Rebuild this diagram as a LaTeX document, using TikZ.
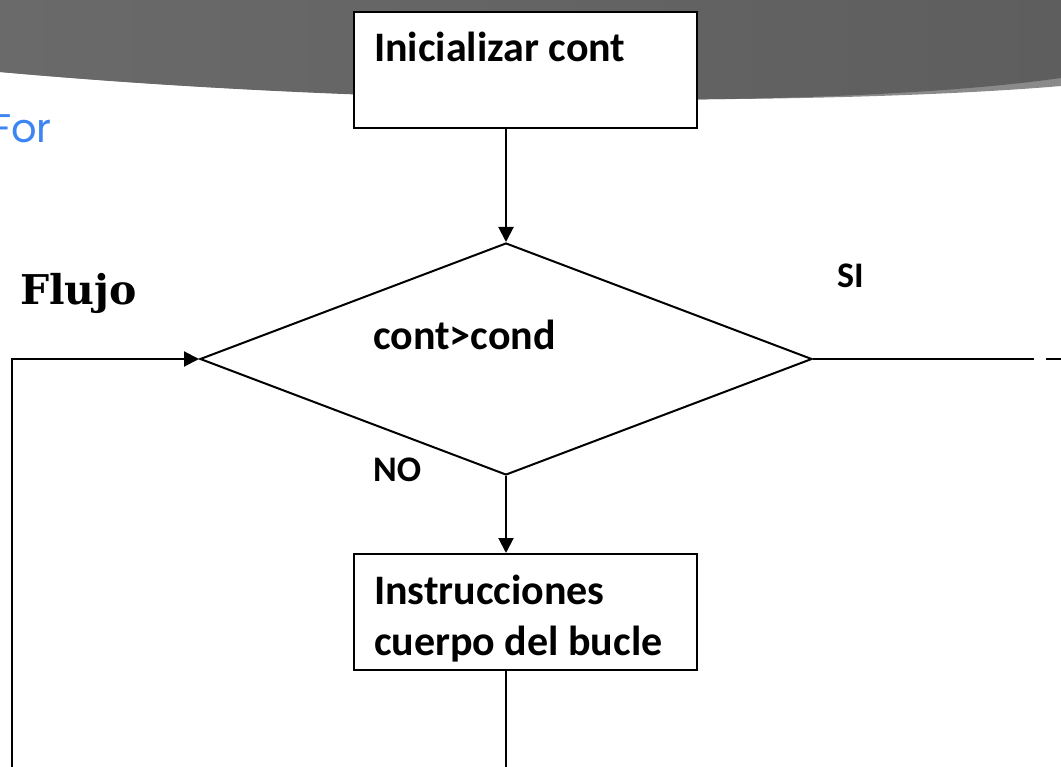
\documentclass[tikz,border=0pt]{standalone}
\usepackage{fontspec}
\setmainfont{Carlito}
\newfontfamily\serifflujo{DejaVu Serif}
\newfontfamily\sansfor{Poppins}
\usetikzlibrary{shapes.geometric,arrows.meta,positioning}
\definecolor{bandaizq}{HTML}{6A6A6A}
\definecolor{bandader}{HTML}{5E5E5E}
\definecolor{bandaclara}{HTML}{8A8A8A}
\definecolor{azulfor}{HTML}{3D85F2}

\begin{document}
\begin{tikzpicture}[x=1pt, y=-1pt,
    caja/.style={draw, rectangle, line width=2.2pt, fill=white, anchor=north west,
      inner xsep=20pt, inner ysep=0pt, text width=303pt, align=flush left,
      text height=49pt, text depth=67pt,
      font=\bfseries\fontsize{42}{51}\selectfont},
    rombo/.style={draw, diamond, line width=2pt, inner sep=0pt,
      minimum width=612pt, minimum height=232pt},
    etiqueta/.style={inner sep=0pt, anchor=base west, font=\bfseries\fontsize{36}{43}\selectfont},
    linea/.style={line width=2pt},
    flecha/.style={linea, -{Triangle[length=15pt, width=15pt]}}]
    \useasboundingbox (0,0) rectangle (1061,767);
    % banda gris de arriba
    \fill[bandaclara] (0,0) -- (1061,0) -- (1061,86) .. controls (850,104) and (400,108) .. (0,72) -- cycle;
    \shade[left color=bandaizq, right color=bandader] (0,0) -- (1061,0) -- (1061,78) .. controls (850,108) and (400,108) .. (0,72) -- cycle;
    \node[inner sep=0pt, anchor=base west, text=azulfor, font=\sansfor\fontsize{40}{48}\selectfont] (titulo) at (-9,143) {For};
    \node[inner sep=0pt, anchor=base west, font=\serifflujo\bfseries\fontsize{41}{48}\selectfont] (flujo) at (20,305) {Flujo};

    \node[caja] (init) at (353,11) {Inicializar cont};
    \node[rombo] (cond) at (506,359) {};
    \node[etiqueta, font=\bfseries\fontsize{42}{51}\selectfont] (txtcond) at (373,350) {cont>cond};
    \node[etiqueta] (si) at (837,288) {SI};
    \node[etiqueta] (no) at (373,482) {NO};
    \node[caja, text height=50pt, text depth=66pt] (cuerpo) at (353,553) {Instrucciones\\cuerpo del bucle};

    \coordinate (abajo) at (506,767);
    \coordinate (esquina) at (12,767);
    \coordinate (salida) at (1034,359);
    \coordinate (trozoa) at (1046,359);
    \coordinate (trozob) at (1061,359);

    \draw[flecha] (init.south -| cond.north) -- (cond.north);
    \draw[flecha] (cond.south) -- (cond.south |- cuerpo.north);
    \draw[linea] (cuerpo.south -| cond.south) -- (abajo);
    \draw[flecha] (esquina) |- (cond.west);
    \draw[linea] (cond.east) -- (salida);
    \draw[linea] (trozoa) -- (trozob);
  \end{tikzpicture}
\end{document}
